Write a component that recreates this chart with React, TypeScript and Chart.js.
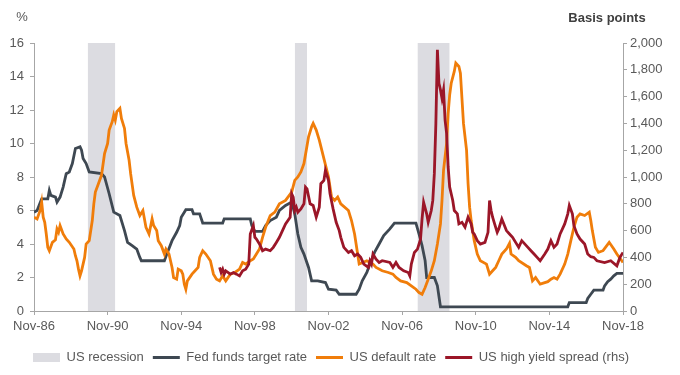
import React, { useEffect, useRef } from 'react';
import { Chart, registerables } from 'chart.js';

Chart.register(...registerables);

// Month index: 0 = Nov-86, 384 = Nov-18
const xTickStep = 48;
const xMax = 384;

const recessionStart = [35, 170, 250];
const recessionEnd = [53, 178, 271];

const fedMonths = [0, 2, 5, 9, 10, 11, 14, 15, 17, 19, 21, 23, 25, 27, 30, 31, 32, 34, 36, 44, 46, 49, 52, 56, 59, 61, 64, 67, 69, 70, 85, 87, 90, 93, 95, 96, 98, 99, 103, 104, 108, 110, 123, 124, 141, 142, 144, 149, 151, 154, 158, 160, 164, 168, 170, 172, 174, 176, 179, 181, 185, 190, 192, 197, 199, 210, 212, 214, 217, 219, 222, 225, 228, 232, 235, 249, 251, 253, 255, 256, 261, 263, 265, 348, 349, 360, 361, 363, 365, 371, 372, 374, 376, 378, 380, 384];
const fedRates = [5.9, 6.0, 6.7, 6.7, 7.2, 6.9, 6.8, 6.5, 6.8, 7.4, 8.2, 8.3, 8.8, 9.7, 9.8, 9.6, 9.1, 8.8, 8.3, 8.2, 8.0, 7.0, 5.9, 5.7, 4.8, 4.1, 3.9, 3.7, 3.2, 3.0, 3.0, 3.5, 4.2, 4.7, 5.1, 5.6, 5.9, 6.05, 6.05, 5.8, 5.8, 5.25, 5.25, 5.5, 5.5, 5.1, 4.75, 4.75, 5.1, 5.4, 5.6, 6.0, 6.3, 6.5, 5.8, 4.6, 3.8, 3.4, 2.6, 1.8, 1.8, 1.7, 1.3, 1.25, 1.0, 1.0, 1.3, 1.8, 2.3, 2.8, 3.5, 4.0, 4.5, 4.9, 5.25, 5.25, 4.6, 3.9, 3.0, 2.0, 2.0, 1.5, 0.25, 0.25, 0.5, 0.5, 0.75, 1.0, 1.25, 1.25, 1.5, 1.75, 1.9, 2.1, 2.25, 2.25];

const defaultMonths = [0, 2, 4, 5, 6, 7, 8, 9, 10, 12, 14, 15, 16, 17, 19, 21, 23, 26, 27, 28, 29, 30, 31, 33, 34, 36, 38, 39, 40, 42, 44, 46, 48, 49, 51, 52, 53, 54, 56, 57, 59, 60, 62, 63, 65, 67, 69, 71, 73, 75, 77, 78, 80, 81, 83, 85, 86, 88, 90, 91, 93, 94, 96, 97, 98, 99, 100, 103, 105, 107, 108, 110, 112, 115, 117, 119, 121, 123, 125, 128, 131, 134, 136, 138, 141, 143, 145, 147, 149, 151, 154, 157, 160, 164, 168, 170, 172, 174, 176, 179, 181, 182, 184, 186, 189, 192, 194, 196, 198, 200, 205, 207, 209, 210, 211, 212, 217, 221, 223, 227, 231, 234, 236, 239, 243, 246, 249, 251, 253, 255, 257, 259, 261, 263, 265, 266, 267, 269, 270, 271, 272, 274, 275, 277, 278, 279, 280, 282, 283, 284, 285, 287, 289, 291, 295, 297, 299, 301, 303, 305, 308, 310, 311, 314, 316, 321, 323, 325, 327, 330, 335, 337, 339, 341, 343, 346, 348, 350, 352, 354, 356, 359, 362, 363, 364, 366, 368, 371, 375, 378, 380, 384];
const defaultRates = [5.6, 5.5, 6.0, 6.5, 5.6, 5.3, 4.6, 3.8, 3.6, 4.1, 4.25, 4.9, 4.7, 5.1, 4.6, 4.3, 4.1, 3.7, 3.3, 3.0, 2.5, 2.1, 2.4, 3.2, 4.0, 4.2, 5.4, 6.4, 7.1, 7.6, 8.1, 9.4, 10.0, 10.8, 11.3, 11.7, 11.4, 11.9, 12.1, 11.5, 10.9, 10.0, 9.0, 8.2, 6.9, 6.2, 5.7, 6.0, 5.0, 4.6, 5.5, 5.1, 4.8, 4.2, 3.9, 3.4, 3.7, 3.4, 2.6, 2.0, 1.9, 2.5, 2.4, 2.2, 1.6, 1.3, 1.8, 2.2, 2.4, 2.6, 3.2, 3.6, 3.4, 3.0, 2.2, 1.9, 1.8, 2.1, 1.8, 2.2, 2.3, 2.5, 2.9, 2.8, 3.0, 3.1, 3.4, 3.7, 4.4, 5.0, 5.7, 5.9, 6.4, 6.6, 7.1, 7.8, 8.0, 8.3, 8.8, 10.4, 11.0, 11.2, 10.8, 10.2, 9.1, 8.0, 6.8, 6.6, 6.8, 6.4, 6.0, 5.4, 4.6, 4.0, 3.4, 2.8, 3.0, 2.8, 2.6, 2.4, 2.3, 2.2, 2.0, 1.8, 1.7, 1.5, 1.3, 1.1, 1.0, 1.4, 1.9, 2.4, 3.0, 4.0, 5.2, 6.6, 8.4, 10.0, 11.8, 12.9, 13.6, 14.3, 14.8, 14.6, 14.2, 12.7, 11.2, 9.6, 7.6, 6.2, 5.4, 4.2, 3.4, 3.0, 2.8, 2.2, 2.4, 2.6, 3.0, 3.4, 3.7, 4.05, 3.4, 3.2, 3.0, 2.7, 2.6, 1.8, 2.0, 1.6, 1.75, 1.9, 2.0, 1.9, 2.2, 2.8, 3.4, 4.2, 5.0, 5.6, 5.8, 5.7, 5.9, 5.4, 4.8, 3.8, 3.5, 3.6, 4.1, 3.7, 3.4, 2.9];

const spreadMonths = [121, 122, 123, 124, 125, 128, 130, 132, 134, 136, 138, 140, 141, 143, 144, 145, 147, 149, 151, 154, 156, 158, 160, 162, 164, 167, 168, 169, 170, 171, 172, 174, 176, 177, 178, 180, 182, 184, 186, 187, 189, 190, 192, 193, 195, 197, 199, 200, 202, 205, 207, 209, 211, 213, 215, 218, 219, 220, 221, 223, 225, 227, 232, 234, 236, 238, 241, 244, 245, 246, 248, 250, 252, 253, 254, 256, 257, 259, 260, 261, 262, 263, 264, 265, 266, 267, 268, 269, 270, 271, 272, 273, 274, 276, 277, 279, 281, 283, 285, 286, 287, 289, 291, 294, 296, 297, 298, 299, 300, 302, 303, 305, 308, 310, 312, 314, 316, 318, 322, 324, 326, 328, 330, 333, 335, 337, 339, 341, 343, 346, 348, 349, 351, 352, 354, 356, 359, 361, 363, 365, 367, 372, 376, 380, 382, 384];
const spreadBps = [325, 287, 312, 275, 300, 275, 287, 275, 262, 300, 312, 350, 575, 637, 550, 537, 500, 450, 462, 450, 475, 512, 550, 600, 650, 700, 875, 850, 750, 775, 737, 762, 800, 925, 912, 800, 787, 700, 775, 950, 975, 1050, 975, 875, 762, 662, 600, 550, 475, 437, 450, 412, 425, 400, 350, 325, 375, 350, 425, 387, 362, 375, 362, 325, 362, 325, 300, 287, 262, 350, 437, 462, 537, 687, 812, 725, 662, 750, 825, 1025, 1400, 1950, 1700, 1650, 1587, 1650, 1425, 1325, 1075, 925, 875, 825, 750, 725, 650, 662, 625, 700, 650, 587, 575, 525, 500, 512, 587, 825, 750, 700, 662, 587, 612, 687, 600, 575, 550, 512, 475, 525, 475, 450, 425, 400, 375, 425, 462, 525, 475, 500, 575, 650, 725, 787, 725, 637, 575, 537, 500, 425, 405, 400, 375, 362, 375, 337, 400, 437];

const FONT = '"Liberation Sans", Arial, sans-serif';
const TEXT = '#595959';
const AXIS = '#a6a6a6';

const pairs = (xs: number[], ys: number[]) => xs.map((x, i) => ({ x, y: ys[i] }));

function recessionPoints() {
  const pts: { x: number; y: number | null }[] = [];
  recessionStart.forEach((s, i) => {
    pts.push({ x: s, y: 16 });
    pts.push({ x: recessionEnd[i], y: 16 });
    pts.push({ x: recessionEnd[i] + 0.5, y: null });
  });
  return pts;
}

const titlesPlugin = {
  id: 'axisTitles',
  afterLayout(chart: any) {
    // nudge the centred legend a little to the left, as in the original
    if (chart.legend) chart.legend.right -= 18;
  },
  afterDraw(chart: any) {
    const ctx = chart.ctx;
    ctx.save();
    ctx.fillStyle = TEXT;
    ctx.textBaseline = 'middle';
    ctx.textAlign = 'center';
    ctx.font = `13px ${FONT}`;
    ctx.fillText('%', 14, 9);
    ctx.font = `bold 13px ${FONT}`;
    ctx.fillStyle = '#404040';
    ctx.fillText('Basis points', 599, 10);
    ctx.restore();
  },
};

export default function App() {
  const ref = useRef<HTMLCanvasElement>(null);
  useEffect(() => {
    if (!ref.current) return;
    const lineDs = (label: string, data: any, color: string, axis: string, order: number) => ({
      type: 'line',
      label,
      data,
      yAxisID: axis,
      borderColor: color,
      backgroundColor: color,
      borderWidth: 2.8,
      pointRadius: 0,
      pointHoverRadius: 0,
      pointStyle: 'line',
      pointBorderColor: color,
      pointBorderWidth: 3,
      tension: 0,
      fill: false,
      order,
    });
    const chart = new Chart(ref.current, {
      type: 'line',
      data: {
        datasets: [
          {
            label: 'US recession',
            data: recessionPoints(),
            yAxisID: 'y',
            borderWidth: 0,
            borderColor: 'rgba(0,0,0,0)',
            backgroundColor: '#dcdce1',
            pointRadius: 0,
            pointStyle: 'rect',
            pointBackgroundColor: '#dcdce1',
            pointBorderWidth: 0,
            fill: 'origin',
            spanGaps: false,
            order: 4,
          } as any,
          lineDs('Fed funds target rate', pairs(fedMonths, fedRates), '#3e4852', 'y', 3),
          lineDs('US default rate', pairs(defaultMonths, defaultRates), '#f07d0a', 'y', 2),
          lineDs('US high yield spread (rhs)', pairs(spreadMonths, spreadBps), '#9b1628', 'y1', 1),
        ],
      },
      options: {
        responsive: false,
        animation: false,
        parsing: true,
        layout: { padding: { top: 35, left: 0, right: 0, bottom: 0 } },
        plugins: {
          tooltip: { enabled: false },
          legend: {
            position: 'bottom',
            labels: {
              usePointStyle: true,
              pointStyleWidth: 27,
              boxHeight: 9,
              padding: 9,
              color: TEXT,
              font: { family: FONT, size: 13 },
              sort: (a: any, b: any) => a.datasetIndex - b.datasetIndex,
            },
          },
        },
        scales: {
          x: {
            type: 'linear',
            min: 0,
            max: xMax,
            afterFit: (s: any) => { s.height = 31; },
            ticks: {
              stepSize: xTickStep,
              autoSkip: false,
              maxRotation: 0,
              padding: 4,
              color: TEXT,
              font: { family: FONT, size: 13 },
              callback: (v: any) => 'Nov-' + String((86 + Number(v) / 12) % 100).padStart(2, '0'),
            },
            grid: { drawOnChartArea: false, drawTicks: true, tickLength: 4, color: AXIS },
            border: { color: AXIS, width: 1 },
          },
          y: {
            type: 'linear',
            position: 'left',
            min: 0,
            max: 16,
            afterFit: (s: any) => { s.width = 26; },
            ticks: { stepSize: 2, padding: 6, color: TEXT, font: { family: FONT, size: 13 } },
            grid: { drawOnChartArea: false, drawTicks: true, tickLength: 4, color: AXIS },
            border: { color: AXIS, width: 1 },
          },
          y1: {
            type: 'linear',
            position: 'right',
            min: 0,
            max: 2000,
            afterFit: (s: any) => { s.width = 49; },
            ticks: {
              stepSize: 200,
              padding: 3,
              color: TEXT,
              font: { family: FONT, size: 13 },
              callback: (v: any) => Number(v).toLocaleString('en-US'),
            },
            grid: { drawOnChartArea: false, drawTicks: true, tickLength: 4, color: AXIS },
            border: { color: AXIS, width: 1 },
          },
        },
      } as any,
      plugins: [titlesPlugin],
    });
    return () => chart.destroy();
  }, []);
  return (
    <div style={{ width: 664, height: 366 }}>
      <canvas ref={ref} width={664} height={366} />
    </div>
  );
}
